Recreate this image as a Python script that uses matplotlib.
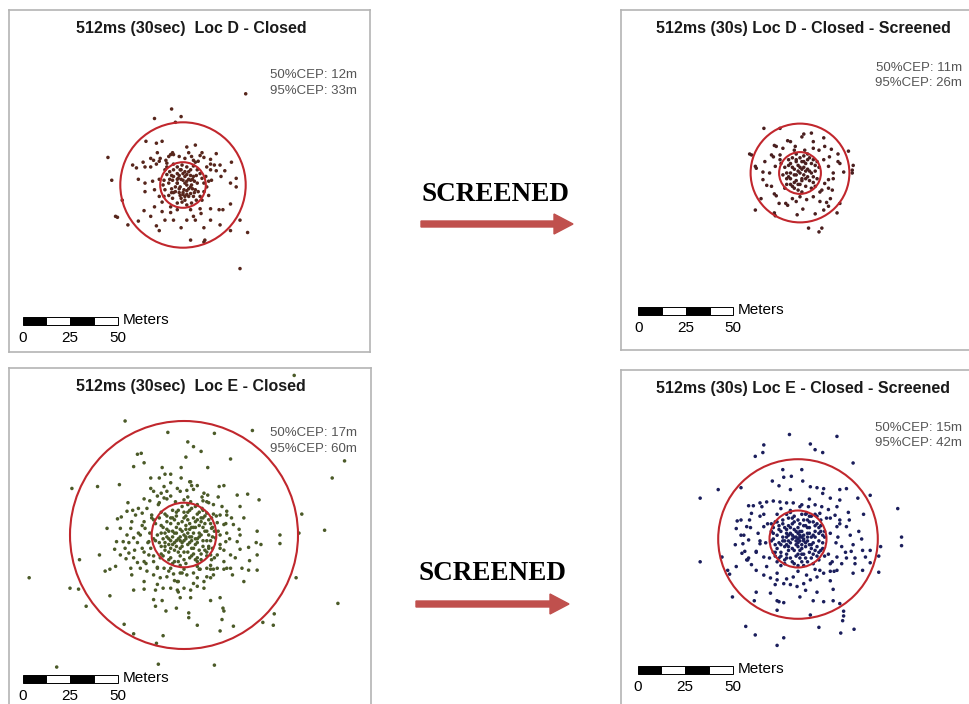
import matplotlib
matplotlib.use("Agg")
import matplotlib.pyplot as plt
from matplotlib.patches import Circle, Rectangle, FancyArrow
import numpy as np

# ---- data (metres east / north of the fix centre) ----
loc_d_closed = [
    (33, 48), (-6, 40), (-1, 36), (-15, 35), (-4, 33), (-19.5, 23), (-14, 22), (-11, 23), (2, 20),
    (6.5, 21), (3, 17), (-5.5, 17), (-6.5, 16), (-5, 16), (-13.5, 17), (10, 17), (9, 15.5), (17.5, 16.5),
    (-39.5, 14.5), (-26.5, 10.5), (-24.5, 9), (-21, 12), (-20, 9.5), (-17, 14), (-15.5, 13), (-17, 9.5),
    (-14, 11), (-12, 14), (-12.5, 12.5), (-9, 13), (-8.5, 11.5), (-7.5, 15), (-5, 11), (-2, 15), (1, 14),
    (4.5, 15), (5.5, 13), (8, 12.5), (11, 14.5), (14.5, 13.5), (14.5, 11), (12.5, 9.5), (16.5, 10.5),
    (19.5, 10.5), (25.5, 12), (22, 7.5), (17.5, 7.5), (20, 4.5), (28, 3.5), (25, 1), (28, -1), (-37.5, 2.5),
    (-23.5, 3), (-20, 1), (-20, -3.5), (-16, 2), (-15, -2.5), (-12.5, 3), (-12.5, -6), (-11, -9), (-32, -8),
    (-35.5, -16.5), (-34.5, -17), (-29, -21), (-23.5, -19), (-20.5, -13.5), (-17, -16.5), (-14, -21.5),
    (-12.5, -24), (-9.5, -18.5), (-11, -14), (-15, -11.5), (-6.5, -14.5), (-5, -18.5), (-1, -22.5), (2, -18.5),
    (5.5, -16.5), (6.5, -18.5), (4, -13), (-3, -13), (11, -22.5), (14.5, -18.5), (19.5, -21), (19, -13),
    (14.5, -12.5), (9.5, -15), (9, -12.5), (25, -10), (25, -24), (30, -18.5), (34, -25), (30, -44), (4, -29),
    (11.5, -29), (11, -30), (21, -13),
    # dense core
    (-9.5, 8), (-8.5, 5.5), (-7, 7), (-5, 8), (-3, 9.5), (-1.5, 8), (0, 6), (1, 4.5), (2, 9.5), (4, 8),
    (5.5, 10), (7.5, 8), (9, 6), (10, 3.5), (12, 4.5), (13.5, 2), (12.5, -1), (11, -3.5), (9, -6), (7, -8),
    (4.5, -9.5), (2, -10.5), (-0.5, -9), (-3, -9.5), (-5.5, -7), (-7.5, -5.5), (-9.5, -2.5), (-10.5, 0),
    (-10, 2.5), (-7.5, 1), (-5.5, 2.5), (-3, 1), (-1.5, -1), (0.5, -2.5), (2, 0), (4, 2.5), (5.5, 4.5),
    (7.5, 1), (6.5, -2.5), (4, -4.5), (1, -6), (-1.5, -5.5), (-4, -3.5), (-6, -2), (-2.5, 3.5), (0, 2.5),
    (2, 5.5), (3, -2), (4.5, 0), (-3, 6), (-5, 4.5), (-0.5, 10.5), (5.5, -6), (8, -3.5), (11, 1), (14.5, 8),
    (15, 2.5), (13.5, -5.5), (10, -8), (-6.5, -11.5), (-10, -6), (-8.5, 9.5), (6.5, 12), (1, 1), (-1, 3),
    (2, -3), (-2, -2), (0, -4), (3, 3), (-3, 1), (1, 7), (-1, -7), (5, -2), (-5, -4), (2, -5), (6, 2), (-6, 5),
    (4, 5), (1, -8), (-2, 5), (3, 7), (-4, -1), (6, -4), (-7, 3), (2, 2), (-2, -4), (4, -1), (0, -5), (-1, 8),
    (5, 3), (-6, -4), (3, -6), (7, 5), (-3, 3),
]

loc_d_screened = [
    (-19, 23.5), (-10.5, 23.5), (-26.5, 10), (-25.5, 9.5), (-23.5, 3.5), (-23, 2.5), (-23.5, -19.5), (28, 4),
    (27.5, 1.5), (27.5, 0), (4.5, -29), (11.5, -29), (10, -31), (-13.5, -21), (-13, -22.5), (-20.5, -13.5),
    (-1.5, -22), (1.5, -19), (8, -21.5), (12.5, -19.5), (15, -17.5), (19.5, -21), (21, -16), (1, 19), (2, 20.5),
    (6, 21), (7, 16.5), (12.5, 18.5), (13, 14), (16.5, 12.5), (20, 10), (25.5, 11.5), (21, 5), (23, 0.5),
    (-13.5, 14.5), (-12.5, 14), (-6.5, 17), (-5, 16.5), (-9, 13), (-2.5, 14), (-3, 12), (2.5, 12), (7, 13),
    (10, 12), (-15, 9.5), (-14, 8.5), (-10.5, 9.5), (-18.5, 6), (-19.5, 0.5), (-19.5, -3.5), (-16, 0),
    (-13, 3.5), (-10.5, 7), (-17.5, -6.5), (-15, -7), (-13.5, -11), (-12.5, -12), (-11, -16), (-7.5, -16),
    (-6.5, -17), (-4, -13.5), (-2, -15), (0, -12.5), (3.5, -14), (7, -12.5), (10.5, -15), (14, -15.5),
    (16, -13.5), (17, -9), (17.5, -3), (15, -3.5), (13, -5.5), (10.5, -10), (17.5, 0), (15, 3.5), (20, 6),
    (15.5, 8.5), (12.5, 7), (15, -8), (11.5, -9),
    # dense core
    (0, 0), (2, 3), (-3, 2), (4, -2), (-2, -4), (1, 6), (-5, 5), (6, 5), (-6, -2), (3, -7), (-1, -9), (7, -5),
    (-8, 3), (8, 1), (-4, 8), (2, 9), (5, 8), (-7, -6), (0, -6), (-3, -1), (4, 2), (9, -3), (-9, -1), (1, -3),
    (-1, 4), (3, 5), (-5, 0), (6, -8), (-2, 10), (7, 7), (-8, -8), (10, 3), (-10, 5), (0, 3), (2, -1),
    (-4, -7), (5, -4), (-6, 7), (8, -7), (-1, 1), (3, 1), (-2, 6), (1, -10), (9, 6), (-7, 0), (4, 10),
    (-3, -5), (6, 0), (0, 8), (-5, -3), (1, 2), (-2, -1), (3, -3), (-4, 3), (5, 1), (-6, 4), (2, 6), (-1, -6),
    (7, -2), (-7, -3), (4, 7), (-3, -8), (8, 4), (-5, -6), (1, -4), (-2, 7),
]

loc_e_closed = [
    (58, 84), (-31, 60), (36, 55), (-8.5, 54), (16, 53.5), (84.5, 39), (78, 30), (-59, 24.5), (-45.5, 25.5),
    (-34, 26.5), (62, 11), (74, 2.5), (60.5, 1), (-81.5, -22.5), (-55, -13), (-60, -28), (-55.5, -28.5),
    (-51.5, -37.5), (-39, -32), (59, -22.5), (81, -36), (47.5, -41.5), (47, -47.5), (41.5, -46), (-31.5, -47),
    (-26.5, -52), (-11, -53), (-14.5, -57), (-67, -69.5), (-13.5, -68), (16, -68.5),
    (-24.5, 42.5), (-22.5, 43), (-26.5, 36), (-21, 38), (2, 49), (5, 46.5), (9, 44), (1, 41), (-11.5, 35.5),
    (-10, 32), (-1.5, 35.5), (24.5, 40), (12.5, 35.5), (-17.5, 30), (-13, 30), (-7, 32), (-1.5, 30), (4, 26),
    (7, 26), (1.5, 23.5), (18.5, 25.5), (21, 26), (28, 21), (33.5, 21.5), (39.5, 18.5), (29.5, 15),
    (22.5, 12.5), (15.5, 11), (15.5, 16), (12.5, 21), (9.5, 20), (18, 20), (-29.5, 17), (-35, 8.5),
    (-33, 9.5), (-40.5, 3.5), (-44.5, -10.5), (-36.5, -7.5), (-30.5, -12.5), (-41.5, -19), (-36, -16.5),
    (-39, -18), (38.5, 2), (50.5, 0), (50.5, -4.5), (38, -4), (40.5, -5), (34, -6.5), (29.5, -7.5),
    (38.5, -10.5), (34.5, -13.5), (38.5, -18.5), (34, -18.5), (30.5, -17.5), (24.5, -17.5), (21, -18),
    (15.5, -18), (14, -18), (-26.5, -29), (-21, -28.5), (-15, -29), (-11, -28), (-16, -34), (-11.5, -34.5),
    (-15, -37.5), (-9.5, -40), (-4, -38.5), (2.5, -41), (2.5, -43.5), (7, -47.5), (14, -34.5), (19, -33),
    (20.5, -38.5), (21, -40), (20, -44.5), (19, -50.5), (26, -48), (10.5, -28), (3.5, -29), (-3.5, -29),
    (-2, -33),
    # ring between the circles
    (-21, 19), (-18, 18), (-14, 20.5), (-10.5, 19.5), (-7, 20.5), (-4.5, 17.5), (0, 18.5), (3.5, 17.5),
    (7, 16), (9.5, 14), (12, 11.5), (14.5, 9), (17.5, 6.5), (21, 5.5), (22.5, 1), (22, -3.5), (19, -7),
    (17.5, -10.5), (14.5, -13), (12, -17.5), (8.5, -18), (5, -20), (1.5, -21), (-2, -20), (-5.5, -20.5),
    (-9, -22), (-12.5, -22.5), (-16, -21), (-19.5, -19), (-23, -17.5), (-24.5, -14.5), (-26.5, -12),
    (-29, -9.5), (-31, -7), (-32, -3.5), (-30, 0), (-28, 3.5), (-27.5, 7), (-25.5, 10.5), (-24, 14),
    (-19.5, 14), (-17, 10.5), (-21, 7), (-23, 0), (-22, -7), (-18.5, -10.5), (-16, -14), (-10.5, -17.5),
    (-3.5, -24.5), (5, -25.5), (14, -22.5), (21, -14), (24.5, -10.5), (28, -3.5), (26, 5.5), (22.5, 10.5),
    (10.5, 22), (-3.5, 24.5), (-10.5, 25.5), (-16, 23), (-30, 12.5), (-33.5, 3.5), (-35.5, -3.5),
    (-33.5, -10.5), (-28, -17.5), (-21, -24.5), (-14, -26), (-7, -28), (3.5, -33), (7, -22.5), (15.5, -21),
    (22.5, -17.5), (29.5, 0), (31.5, 9), (3.5, 28), (-7, 27.5), (-17.5, 24.5), (-22, 11.5), (-16, 8),
    (-26.5, -1.5), (-24.5, -4), (-21, -14), (-14, -17.5), (-7, -17.5), (0, -18), (7, -16.5), (14, -10.5),
    (19, 0), (19, 10.5), (12, 17.5), (-2, 23), (-9, 23), (-13.5, 16), (-20.5, 3.5), (-18.5, -3.5),
    (-17.5, -7), (-12.5, -12), (14.5, 3.5), (16.5, -1.5), (13, -7), (7, -14), (-27.5, -21), (-3, -24.5),
    (0, -28), (10.5, -24.5), (17.5, -17.5), (25.5, -21), (31.5, -24.5), (7, -27),
    (18, 2), (-18, 1), (19, -5), (-19, -4), (17, 10), (-17, 9), (16, -12), (-16, -11), (10, 18), (-9, 19),
    (8, -18), (-8, -19), (2, 20), (-1, -20), (22, 6), (-22, 5), (21, -8), (-21, -9), (13, 17), (-13, 17),
    (14, -16), (-14, -17), (24, -2), (-24, 1), (5, 24), (-5, -24), (25, 9), (-26, -8), (20, 15), (-20, -15),
    (12, -22), (-12, 22), (27, -12), (-27, 13), (3, 28), (-3, -30), (29, 3), (-29, -4),
    # dense core
    (0, 0), (2, 1), (-2, 3), (4, -1), (-3, -2), (1, 5), (-5, 1), (6, 4), (-1, -6), (3, -4), (-6, -5), (7, -2),
    (-7, 6), (5, 9), (-4, 10), (9, 7), (10, -3), (-9, -1), (2, -9), (-2, -11), (8, -8), (-8, -9), (12, 2),
    (-11, 4), (0, 12), (11, 10), (-10, 11), (13, -6), (-12, -6), (4, 14), (-5, -14), (6, -13), (14, 6),
    (-14, 0), (1, -15), (-1, 15), (15, -1), (3, 3), (-3, 6), (6, -5), (-6, -1), (0, -3), (2, 8), (-8, 2),
    (8, 1), (-2, -7), (5, -10), (-7, -12), (10, 13), (-13, 9), (12, -11), (-11, -11), (7, 11), (-6, 13),
    (9, -13), (-4, -3), (3, -1), (-1, 2), (1, -1), (4, 4), (-4, 4), (4, -7), (-3, -9), (7, -4), (-9, 7),
    (10, 4), (-10, -4), (13, 0), (-12, 1), (0, 9), (0, -13), (8, -1), (-8, -5), (6, 7), (-6, 9), (2, 12),
    (-3, 13), (11, -8), (-10, -8), (15, 4), (-15, -3), (5, 1), (-5, -8), (3, -12), (9, 9), (-2, -1), (1, 3),
    (-1, -4), (11, 6), (-7, -3),
    (1, -2), (-2, -3), (3, 6), (-4, -6), (6, -2), (-6, 2), (2, -5), (-1, 7), (8, 5), (-8, -2), (5, -7),
    (-5, 8), (10, -6), (-10, 1), (0, -9), (1, 10), (12, -3), (-12, 5), (7, -12), (-7, 9), (14, -3),
    (-13, -4), (4, -11), (-4, 12), (9, -10), (-9, 10), (11, 2), (-11, -2), (3, 13), (-3, -14), (13, 8),
    (-12, -10), (6, 15), (-6, -15), (15, -7), (-15, 6), (8, 12), (-8, -13), (16, 2), (-16, -2), (2, 16),
    (-2, -16), (5, 4), (-5, -4), (7, 8), (-7, -7), (9, 0), (-9, 3), (4, -3), (-4, 1), (10, 9), (-10, -6),
    (12, -9), (-12, 12),
]

loc_e_screened = [
    (-4.5, 55), (20.5, 54), (-18, 49.5), (-18.5, 45.5), (-22.5, 43.5), (6.5, 50), (9, 47), (13, 45.5),
    (29, 40), (-42, 26), (-51.5, 21.5), (-30, 27), (52.5, 16), (54.5, 1), (54.5, -3.5), (-51.5, -12),
    (-40, -9.5), (43.5, -4), (42.5, -9), (42.5, -17.5), (-27.5, -46), (-22.5, -50.5), (-7.5, -52), (-11, -56),
    (11, -46.5), (22.5, -49.5), (29.5, -47.5), (23.5, -43), (24, -40.5), (24, -38), (6.5, -40),
    (-34.5, -30.5), (-36, -18.5), (-37, -16.5), (-32.5, -14.5), (-23, -32.5), (-22, -28), (-14.5, -28.5),
    (-11, -32.5), (-10, -33), (-7.5, -33.5), (-11, -37.5), (1, -30.5), (8, -32.5), (13.5, -33), (18.5, -32.5),
    (22, -34), (18.5, -26.5), (17, -22), (29, -18), (34, -16.5), (30, -13), (34, -6), (38, -6), (38, -12.5),
    (35.5, -9.5), (33.5, 0), (31.5, 21.5), (38, 23), (34.5, 13), (26.5, 14), (22, 20.5), (25.5, 26.5),
    (22, 26), (17, 21.5), (20.5, 17), (13.5, 26.5), (10, 27), (6.5, 27.5), (2.5, 30.5), (2, 36.5),
    (-3.5, 33), (-7.5, 32.5), (-8, 36.5), (-13.5, 30.5), (-26, 17.5), (-32, 9.5), (-32.5, 5.5), (-30, 2),
    (-26, -0.5), (-26.5, -11), (-29.5, -7.5),
    # ring between the circles
    (-23.5, 17.5), (-20, 19), (-16.5, 19.5), (-13, 20), (-9.5, 19.5), (-6, 19), (-2.5, 19), (2, 18),
    (5.5, 17), (9, 18), (12.5, 17), (16, 15.5), (19.5, 12.5), (22, 10), (25.5, 6.5), (27.5, 2), (29, -3),
    (28, -6.5), (25.5, -10), (23, -13), (20.5, -16.5), (17, -17), (13.5, -18), (10, -20), (6.5, -21.5),
    (3, -23.5), (-0.5, -25), (-4, -24), (-7.5, -23.5), (-11, -21.5), (-14.5, -20.5), (-18, -19),
    (-22, -16.5), (-24.5, -13.5), (-26, -10), (-28, -6.5), (-29, -2.5), (-28.5, 2), (-27, 6.5), (-25.5, 10),
    (-24.5, 13.5), (-20, 12), (-18, 6.5), (-21, 3), (-20, -2.5), (-22, -6.5), (-18, -9.5), (-16.5, -14.5),
    (-11, -18), (-2.5, -20), (4.5, -19), (11.5, -16.5), (17, -13), (20.5, -9.5), (23, -4), (21, 1),
    (20.5, 6.5), (17, 11), (11.5, 13.5), (4.5, 13.5),
    (17, 3), (-17, -2), (16, -8), (-16, 8), (15, 11), (-15, -10), (9, -16), (-9, 16), (1, 17), (0, -17),
    (18, -12), (-18, 13), (20, -2), (-20, -1), (6, 21), (-6, -21), (22, 8), (-22, -7), (19, -17), (-19, 17),
    (13, 24), (-12, -24), (25, -7), (-25, 6), (4, -27), (-4, 26), (27, 10), (-27, -11), (30, -10), (-30, 10),
    (10, -28), (-10, 28), (32, 4), (-33, -3),
    # dense core
    (0, 0), (1, 2), (-2, 1), (3, -1), (-1, -3), (2, 4), (-4, 3), (5, 1), (-3, -5), (4, -4), (-5, -1), (6, 6),
    (-6, 5), (7, -3), (-7, -4), (1, 8), (-2, 9), (3, -8), (-1, -9), (8, 2), (-8, 1), (9, -6), (-9, -7),
    (5, 10), (-5, 11), (10, 8), (-10, 7), (11, -1), (-11, 2), (2, -12), (-3, -12), (12, 4), (-12, -3),
    (7, -10), (-7, -11), (13, -5), (-13, 6), (4, 13), (-4, 14), (0, -14), (14, 1), (-14, -1), (2, 1),
    (-1, 4), (3, 2), (-3, 0), (0, 6), (1, -6), (-6, -8), (6, -7), (8, 9), (-8, 10), (10, -9), (-10, -10),
    (12, 10), (-12, 9), (11, -11), (-11, -12), (6, 12), (-6, 13), (9, 4), (-9, 4), (4, 7), (-4, 6), (2, -3),
    (-2, -6), (5, -1), (-5, 2), (7, 1), (-7, -1), (3, 10), (-2, 12), (1, -10), (-4, -10), (12, -6),
    (-13, -7), (14, -9), (-14, 8), (8, -13), (-9, -14), (10, 12), (-11, 13), (0, 3), (0, -2), (-1, 1),
    (1, -1), (2, -8), (-3, 8), (6, 3), (-6, -3), (5, -12), (-5, -6), (13, 2), (-13, 3), (9, 13), (-10, -2),
    (11, 6), (-12, -9), (4, -2), (-2, 5),
    (1, 4), (-3, 2), (2, -5), (-4, -2), (5, 3), (-5, -4), (3, 7), (-6, 1), (7, -5), (-7, 6), (0, 10),
    (0, -8), (9, 1), (-9, -3), (6, 9), (-6, -10), (10, -4), (-10, 5), (4, -10), (-3, 11), (11, 3), (-11, -5),
    (8, -8), (-8, 8), (13, -2), (-13, 0), (2, 13), (-2, -13), (12, 7), (-12, -7), (7, 12), (-7, -13),
    (14, 4), (-14, 4), (3, -14), (-4, 15), (1, 1), (-1, -1), (3, 0), (0, -4), (5, 6), (-5, 7), (8, -2),
    (-8, -1), (6, -3), (-6, 3), (9, 7), (-9, -9), (11, -7), (-11, 9),
]

titles = ["512ms (30sec)  Loc D - Closed", "512ms (30s) Loc D - Closed - Screened",
          "512ms (30sec)  Loc E - Closed", "512ms (30s) Loc E - Closed - Screened"]
cep50 = [12, 11, 17, 15]
cep95 = [33, 26, 60, 42]
point_colors = ["#57261c", "#4a1f1f", "#4b5a28", "#1b1e5c"]
arrow_label = "SCREENED"

# ---- layout (pixels) ----
W, H = 969, 704
PXM = 1.9  # pixels per metre on the maps

fig = plt.figure(figsize=(W / 100, H / 100), dpi=100)
fig.patch.set_facecolor("white")

frames = [(9, 10, 370, 352), (621, 10, 975, 350), (9, 368, 371, 712), (621, 370, 975, 712)]
centres = [(183, 185), (800, 173), (184, 535), (798, 539)]
title_pos = [(191, 28), (803, 28), (191, 386), (803, 388)]
cep_pos = [(357, 75), (962, 68), (357, 433), (962, 428)]
bar_pos = [(22.7, 317), (638.3, 307), (22.7, 675), (637.7, 666)]
datasets = [loc_d_closed, loc_d_screened, loc_e_closed, loc_e_screened]

sans = "Liberation Sans"


def fx(x):
    return x / W


def fy(y):
    return 1 - y / H


for i in range(4):
    x0, y0, x1, y1 = frames[i]
    cx, cy = centres[i]
    ax = fig.add_axes([fx(x0), fy(y1), (x1 - x0) / W, (y1 - y0) / H])
    ax.set_xlim((x0 - cx) / PXM, (x1 - cx) / PXM)
    ax.set_ylim((cy - y1) / PXM, (cy - y0) / PXM)
    ax.set_xticks([])
    ax.set_yticks([])
    for s in ax.spines.values():
        s.set_color("#b4b4b4")
        s.set_linewidth(1.2)

    pts = np.array(datasets[i])
    ax.scatter(pts[:, 0], pts[:, 1], s=6.5, color=point_colors[i], edgecolors="none", zorder=3)
    for r in (cep50[i], cep95[i]):
        ax.add_patch(Circle((0, 0), r, fill=False, edgecolor="#c1272d", linewidth=1.5, zorder=4))

    # scale bar, 0-50 m in four segments
    bx, by = bar_pos[i]
    bx_m = (bx - cx) / PXM
    by_m = (cy - by) / PXM
    bh = 8 / PXM
    for k in range(4):
        ax.add_patch(Rectangle((bx_m + k * 12.5, by_m - bh), 12.5, bh,
                               facecolor="black" if k % 2 == 0 else "white",
                               edgecolor="black", linewidth=0.7, zorder=5))
    for v in (0, 25, 50):
        ax.text(bx_m + v, by_m - bh - 13 / PXM, str(v), ha="center", va="center",
                fontsize=11, family=sans, color="black")
    ax.text(bx_m + 52.5, by_m - bh / 2 + 1.5 / PXM, "Meters", ha="left", va="center",
            fontsize=11, family=sans, color="black")

    tx, ty = title_pos[i]
    fig.text(fx(tx), fy(ty), titles[i], ha="center", va="center", fontsize=11.5,
             fontweight="bold", family=sans, color="#1a1a1a")
    px, py = cep_pos[i]
    fig.text(fx(px), fy(py), f"50%CEP: {cep50[i]}m", ha="right", va="center",
             fontsize=9.5, family=sans, color="#555555")
    fig.text(fx(px), fy(py + 15.5), f"95%CEP: {cep95[i]}m", ha="right", va="center",
             fontsize=9.5, family=sans, color="#555555")

# "SCREENED" arrows between the panel pairs
for (tx, ty), (ax0, ax1, ay) in [((496, 194), (421, 573, 224)), ((493, 573), (416, 569, 604))]:
    fig.text(fx(tx), fy(ty), arrow_label, ha="center", va="center", fontsize=19.5,
             fontweight="bold", family="Liberation Serif", color="black")
    fig.patches.append(FancyArrow(fx(ax0), fy(ay), (ax1 - ax0) / W, 0, width=6 / H,
                                  head_width=20 / H, head_length=19 / W,
                                  length_includes_head=True, color="#c0504d",
                                  transform=fig.transFigure, figure=fig))

fig.savefig("out.png", dpi=100, facecolor="white")
